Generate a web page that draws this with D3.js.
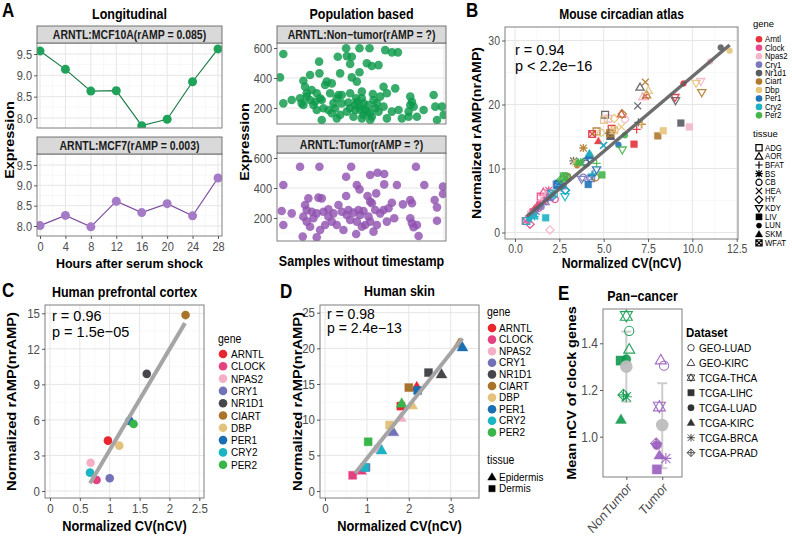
<!DOCTYPE html>
<html><head><meta charset="utf-8">
<script src="https://cdn.jsdelivr.net/npm/d3@7"></script>
<style>body{margin:0;background:#fff}</style>
</head><body><svg id="fig" width="792" height="541"></svg>
<script>
// ---------------- DATA ----------------
const hours = [0, 4, 8, 12, 16, 20, 24, 28];
const mcf10aExpr = [9.57, 9.14, 8.63, 8.64, 7.82, 7.97, 8.85, 9.62];
const mcf7Expr = [8.01, 8.26, 7.98, 8.61, 8.33, 8.55, 8.25, 9.18];

const nonTumorSample = [3.8,41.4,49.4,55.4,64.8,68.8,72.4,36.4,41.8,44.8,43.8,53.8,56.8,60.8,25.2,1.8,15.8,19.8,25.4,37.8,44.8,49.4,47.8,29.8,32.8,28.8,16.8,20.8,17.8,13.8,23.8,25.8,31.8,36.8,38.8,35.8,43.8,50.8,47.4,50.8,57.8,61.8,65.8,70.8,63.8,57.4,3.8,8.8,14.8,21.8,26.8,27.8,30.8,34.8,38.8,42.8,43.8,47.8,51.8,54.8,52.8,55.8,58.8,60.8,63.8,49.8,46.8,41.8,45.8,50.8,55.8,26.8,35.8,37.8,79.8,80.8,79.8,81.8,78.8,83.8,87.8,93.8,94.8,98.8,99.8,95.8,74.8,78.8,65.8,68.8,72.8,19.8,17.8,22.8,33.8,49.8,53.8,56.8,59.8,32.8,23.8,15.8,46.8,51.8];
const nonTumorExpr = [560,598,598,598,586,571,571,542,546,542,493,498,480,486,509,404,382,420,431,431,404,438,376,376,364,353,342,320,298,265,298,265,298,287,287,265,298,309,265,265,253,276,298,331,342,293,231,253,231,220,253,198,187,198,231,236,198,242,231,220,187,165,198,176,209,187,187,176,142,131,120,120,131,154,276,242,220,209,176,142,187,287,209,209,154,120,131,142,131,176,187,253,276,242,231,209,176,142,231,165,187,220,220,154];
const tumorSample = [13.8,25.4,44.4,83.2,41.4,55.8,60.2,64.2,3.8,47.8,49.4,64.2,71.8,88.2,99.4,99.4,18.8,24.8,26.8,41.4,54.2,59.4,55.8,56.8,68.8,75.4,79.8,80.8,94.4,95.8,2.8,8.8,16.8,17.8,20.8,23.8,27.8,30.8,33.8,36.8,38.8,42.8,45.8,48.8,51.8,63.8,66.8,49.8,54.8,61.8,15.8,3.8,19.8,25.8,28.8,32.8,35.8,43.8,47.8,52.8,55.8,59.8,70.2,79.8,80.8,83.8,95.8,15.4,23.8,47.4,57.8,84.8,21.8,30.8,41.8,58.8,65.8,81.8,39.8,50.8,17.8];
const tumorExpr = [542,542,542,542,475,487,502,493,420,420,391,424,420,420,409,360,331,336,331,347,347,364,309,298,302,291,320,298,320,271,247,231,287,253,242,231,242,258,231,287,242,253,236,253,247,253,265,220,209,231,209,153,142,120,153,176,153,187,176,153,176,153,198,198,165,153,182,76,71,93,109,80,198,209,220,253,176,138,120,142,176];

const mouseGenes = ["Arntl","Clock","Npas2","Cry1","Nr1d1","Ciart","Dbp","Per1","Cry2","Per2"];
const mouseGeneColors = ["#E5323B","#E8498C","#F4B5C9","#7B78BE","#5B5C63","#B07A2E","#E6C57D","#1F74B6","#1DB3C4","#45B54B"];
const mouseTissues = ["ADG","AOR","BFAT","BS","CB","HEA","HY","KDY","LIV","LUN","SKM","WFAT"];
// [gene, tissue, nCV, nrAMP]
const mouseAtlas = [
 ["Arntl","ADG",5.45,16.2],["Arntl","AOR",6.0,18.5],["Arntl","BFAT",6.86,16.1],["Arntl","BS",1.3,3.9],["Arntl","CB",2.95,8.7],["Arntl","HEA",7.35,21.3],["Arntl","HY",1.1,3.5],["Arntl","KDY",9.02,21.1],["Arntl","LIV",6.71,13.8],["Arntl","LUN",9.5,23.3],["Arntl","SKM",4.7,14.3],["Arntl","WFAT",4.35,15.4],
 ["Clock","ADG",1.45,5.6],["Clock","AOR",1.6,6.3],["Clock","BFAT",1.25,4.1],["Clock","BS",1.9,6.6],["Clock","CB",2.25,5.2],["Clock","HEA",0.75,2.1],["Clock","HY",0.85,1.3],["Clock","KDY",1.75,5.0],["Clock","LIV",1.0,3.2],["Clock","LUN",1.35,4.5],["Clock","SKM",1.85,5.8],["Clock","WFAT",0.6,1.8],
 ["Npas2","ADG",5.25,17.8],["Npas2","AOR",7.2,21.2],["Npas2","BFAT",1.7,6.2],["Npas2","BS",2.4,6.9],["Npas2","CB",6.2,17.7],["Npas2","HEA",1.5,5.4],["Npas2","HY",1.97,0.4],["Npas2","KDY",10.47,23.6],["Npas2","LIV",9.83,16.5],["Npas2","LUN",11.0,26.7],["Npas2","SKM",2.05,6.0],["Npas2","WFAT",0.9,2.8],
 ["Cry1","ADG",2.35,7.5],["Cry1","AOR",1.7,4.8],["Cry1","BFAT",4.4,9.1],["Cry1","BS",1.2,3.3],["Cry1","CB",3.85,8.6],["Cry1","HEA",0.95,2.5],["Cry1","HY",2.1,5.6],["Cry1","KDY",3.75,8.3],["Cry1","LIV",2.7,7.3],["Cry1","LUN",1.5,4.0],["Cry1","SKM",1.95,5.4],["Cry1","WFAT",4.3,8.5],
 ["Nr1d1","ADG",5.08,18.4],["Nr1d1","AOR",7.05,22.7],["Nr1d1","BFAT",6.96,17.2],["Nr1d1","BS",3.3,11.2],["Nr1d1","CB",4.0,10.8],["Nr1d1","HEA",6.92,19.8],["Nr1d1","HY",5.35,15.5],["Nr1d1","KDY",9.05,20.6],["Nr1d1","LIV",9.35,17.1],["Nr1d1","LUN",11.6,28.9],["Nr1d1","SKM",5.4,15.0],["Nr1d1","WFAT",5.38,15.1],
 ["Ciart","ADG",4.6,15.8],["Ciart","AOR",7.42,21.5],["Ciart","BFAT",7.15,16.9],["Ciart","BS",3.85,13.2],["Ciart","CB",4.55,8.6],["Ciart","HEA",7.35,23.5],["Ciart","HY",6.05,18.5],["Ciart","KDY",10.53,21.85],["Ciart","LIV",8.05,15.1],["Ciart","LUN",3.5,10.5],["Ciart","SKM",2.9,8.5],["Ciart","WFAT",5.36,15.5],
 ["Dbp","ADG",5.02,17.6],["Dbp","AOR",7.52,22.2],["Dbp","BFAT",7.1,17.0],["Dbp","BS",3.4,11.0],["Dbp","CB",4.85,15.6],["Dbp","HEA",6.0,16.5],["Dbp","HY",5.6,17.8],["Dbp","KDY",10.21,23.3],["Dbp","LIV",8.36,15.9],["Dbp","LUN",12.1,28.4],["Dbp","SKM",4.3,12.0],["Dbp","WFAT",5.6,16.0],
 ["Per1","ADG",2.45,7.6],["Per1","AOR",4.2,12.0],["Per1","BFAT",4.35,8.9],["Per1","BS",2.5,7.7],["Per1","CB",3.95,11.1],["Per1","HEA",5.0,13.6],["Per1","HY",2.85,6.6],["Per1","KDY",4.6,9.8],["Per1","LIV",4.13,7.5],["Per1","LUN",5.83,13.7],["Per1","SKM",4.15,12.1],["Per1","WFAT",2.4,7.4],
 ["Cry2","ADG",0.65,1.8],["Cry2","AOR",1.05,2.7],["Cry2","BFAT",4.35,9.1],["Cry2","BS",1.1,2.5],["Cry2","CB",2.2,5.9],["Cry2","HEA",4.98,13.6],["Cry2","HY",2.82,6.6],["Cry2","KDY",2.82,5.6],["Cry2","LIV",1.73,2.3],["Cry2","LUN",0.8,2.1],["Cry2","SKM",4.2,12.4],["Cry2","WFAT",2.05,6.1],
 ["Per2","ADG",2.75,8.8],["Per2","AOR",2.7,8.6],["Per2","BFAT",4.6,10.8],["Per2","BS",3.7,11.0],["Per2","CB",2.8,8.8],["Per2","HEA",3.6,10.9],["Per2","HY",2.6,8.3],["Per2","KDY",6.05,12.9],["Per2","LIV",4.9,9.0],["Per2","LUN",6.2,15.2],["Per2","SKM",3.55,11.0],["Per2","WFAT",2.9,8.6]
];
const mouseFit = [[0.66, 2.5], [12.1, 29.3]];

const humanGenes = ["ARNTL","CLOCK","NPAS2","CRY1","NR1D1","CIART","DBP","PER1","CRY2","PER2"];
const humanGeneColors = ["#E8262F","#E5407F","#F4AFC5","#7371B8","#46474B","#A9732A","#E3C27C","#1A6FB2","#1BB4C3","#3AB54A"];
const cortexCV = [0.97, 0.78, 0.68, 1.0, 1.62, 2.27, 1.16, 1.33, 0.67, 1.40];
const cortexAMP = [4.25, 0.93, 2.39, 1.07, 9.89, 14.85, 3.83, 5.92, 1.55, 5.66];
const cortexFit = [[0.67, 0.65], [2.26, 14.17]];

const skinTissues = ["Epidermis","Dermis"];
const skinEpiCV  = [2.19, 0.86, 1.81, 1.63, 2.78, 3.2, 2.08, 3.28, 1.35, 1.83];
const skinEpiAMP = [14.6, 2.9, 10.3, 8.3, 16.4, 20.7, 12.05, 20.2, 5.75, 12.3];
const skinDerCV  = [1.81, 0.66, 1.27, 0.98, 2.47, 2.0, 1.54, 2.21, 0.95, 1.03];
const skinDerAMP = [11.9, 2.2, 5.9, 3.3, 16.6, 14.5, 9.25, 14.1, 3.3, 6.9];
const skinFit = [[0.72, 2.48], [3.28, 21.4]];

const panGroups = ["NonTumor","Tumor"];
const panDatasets = ["GEO-LUAD","GEO-KIRC","TCGA-THCA","TCGA-LIHC","TCGA-LUAD","TCGA-KIRC","TCGA-BRCA","TCGA-PRAD"];
const panNonTumor = [1.453, 1.375, 1.517, 1.326, 1.332, 1.074, 1.171, 1.179];
const panTumor = [1.304, 1.329, 1.129, 0.86, 0.964, 0.921, 0.907, 0.971];
const panNonTumorJitter = [0.08, 0.08, 0.0, -0.16, 0.0, -0.15, 0.0, -0.08];
const panTumorJitter = [0.05, -0.04, -0.08, -0.15, -0.15, -0.08, 0.1, -0.17];
const panMean = [1.30, 1.05];
const panLow = [1.15, 0.865];
const panHigh = [1.45, 1.229];

// ---------------- HELPERS ----------------
const svg = d3.select("#fig");
const SY = 1.15;
const F = "'Liberation Sans', Arial, Helvetica, sans-serif";
svg.style("font-family", F);

function T(x, y, s, o = {}) {
  return svg.append("text")
    .attr("transform", `translate(${x},${y}) scale(1,${o.sy ?? SY})${o.rot ? ` rotate(${o.rot})` : ""}`)
    .attr("font-size", o.size || 11)
    .attr("font-weight", o.bold ? "bold" : null)
    .attr("fill", o.fill || "#000")
    .attr("text-anchor", o.anchor || "start")
    .attr("dy", o.dy || 0)
    .text(s);
}
let clipN = 0;
function panel(box, xs, ys, o = {}) {
  const g = svg.append("g");
  g.append("rect").attr("x", box.x0).attr("y", box.y0).attr("width", box.x1 - box.x0).attr("height", box.y1 - box.y0).attr("fill", "#fff");
  const vl = (arr, col, w) => g.append("g").selectAll("line").data(arr).join("line")
    .attr("x1", d => xs(d)).attr("x2", d => xs(d)).attr("y1", box.y0).attr("y2", box.y1).attr("stroke", col).attr("stroke-width", w);
  const hl = (arr, col, w) => g.append("g").selectAll("line").data(arr).join("line")
    .attr("y1", d => ys(d)).attr("y2", d => ys(d)).attr("x1", box.x0).attr("x2", box.x1).attr("stroke", col).attr("stroke-width", w);
  vl(o.xMinor || [], "#F4F4F4", 0.6); hl(o.yMinor || [], "#F4F4F4", 0.6);
  vl(o.xMajor || [], "#E6E6E6", 1); hl(o.yMajor || [], "#E6E6E6", 1);
  const id = "clip" + (clipN++);
  svg.append("clipPath").attr("id", id).append("rect").attr("x", box.x0).attr("y", box.y0).attr("width", box.x1 - box.x0).attr("height", box.y1 - box.y0);
  return svg.append("g").attr("clip-path", `url(#${id})`);
}
function border(box) {
  svg.append("rect").attr("x", box.x0).attr("y", box.y0).attr("width", box.x1 - box.x0).attr("height", box.y1 - box.y0)
    .attr("fill", "none").attr("stroke", "#7F7F7F").attr("stroke-width", 1);
}
function styleAxis(g, size) {
  g.select(".domain").remove();
  g.selectAll(".tick line").attr("stroke", "#333").attr("stroke-width", 0.8);
  g.selectAll(".tick text").attr("fill", "#4D4D4D").attr("font-size", size).attr("font-family", F).attr("transform", `scale(1,${SY})`);
  return g;
}
function axisL(box, ys, ticks, fmt, size) {
  return styleAxis(svg.append("g").attr("transform", `translate(${box.x0},0)`)
    .call(d3.axisLeft(ys).tickValues(ticks).tickFormat(fmt).tickSize(3).tickPadding(2)), size);
}
function axisB(box, xs, ticks, fmt, size) {
  return styleAxis(svg.append("g").attr("transform", `translate(0,${box.y1})`)
    .call(d3.axisBottom(xs).tickValues(ticks).tickFormat(fmt).tickSize(3).tickPadding(2)), size);
}
function strip(box, y0, label) {
  svg.append("rect").attr("x", box.x0).attr("y", y0).attr("width", box.x1 - box.x0).attr("height", box.y0 - y0)
    .attr("fill", "#D9D9D9").attr("stroke", "#555").attr("stroke-width", 0.8);
  T((box.x0 + box.x1) / 2, (y0 + box.y0) / 2, label, {size: 10.5, bold: true, anchor: "middle", dy: "0.35em", fill: "#1A1A1A"});
}
function shape(kind, s) {
  const h = s * 1.2;
  const sq = `M${-s},${-s}H${s}V${s}H${-s}Z`;
  const tri = `M0,${-h}L${h},${h * 0.72}L${-h},${h * 0.72}Z`;
  const trid = `M0,${h}L${h},${-h * 0.72}L${-h},${-h * 0.72}Z`;
  const plus = `M${-h},0H${h}M0,${-h}V${h}`;
  const cross = `M${-s},${-s}L${s},${s}M${-s},${s}L${s},${-s}`;
  const circ = `M${s},0A${s},${s} 0 1,1 ${-s},0A${s},${s} 0 1,1 ${s},0Z`;
  const dia = `M0,${-h}L${h},0L0,${h}L${-h},0Z`;
  switch (kind) {
    case "square": return sq;
    case "triangle": return tri;
    case "triangleDown": return trid;
    case "plus": return plus;
    case "cross": return cross;
    case "asterisk": return plus + cross;
    case "circle": return circ;
    case "diamond": return dia;
    case "squareCross": return sq + cross;
    case "david": return tri + trid;
    case "diamondPlus": return dia + plus;
  }
}
const tissueShape = {ADG:["square",0], AOR:["triangle",0], BFAT:["plus",0], BS:["asterisk",0], CB:["circle",0], HEA:["cross",0],
  HY:["diamond",0], KDY:["triangleDown",0], LIV:["square",1], LUN:["circle",1], SKM:["triangle",1], WFAT:["squareCross",0]};
const panShape = [["circle",0],["triangle",0],["david",0],["square",1],["circle",1],["triangle",1],["asterisk",0],["diamondPlus",0]];
function mark(g, kind, filled, x, y, s, color, sw) {
  return g.append("path").attr("d", shape(kind, s)).attr("transform", `translate(${x},${y})`)
    .attr("fill", filled ? color : "none").attr("stroke", color).attr("stroke-width", filled ? 0.4 : sw)
    .attr("stroke-linejoin", "miter");
}

// ---------------- PANEL A: LONGITUDINAL ----------------
T(2, 17, "A", {size: 17, bold: true});
const aTop = {x0: 37, x1: 222, y0: 43, y1: 128}, aBot = {x0: 37, x1: 222, y0: 154, y1: 236};
const axL = d3.scaleLinear().domain([0, 28]).range([40, 218]);
const ayTop = d3.scaleLinear().domain([8, 9.5]).range([118, 54]);
const ayBot = d3.scaleLinear().domain([8, 9.5]).range([226, 165]);
T(129.5, 19, "Longitudinal", {size: 12.5, bold: true, anchor: "middle"});
[[aTop, ayTop, mcf10aExpr, "#1E7E48", "#1FA35A", 26, "ARNTL:MCF10A(rAMP = 0.085)"],
 [aBot, ayBot, mcf7Expr, "#7D4CA0", "#A57AC6", 137, "ARNTL:MCF7(rAMP = 0.003)"]].forEach(([box, ys, vals, lc, pc, sy0, lab]) => {
  const g = panel(box, axL, ys, {xMajor: hours, xMinor: [2, 6, 10, 14, 18, 22, 26], yMajor: [8, 8.5, 9, 9.5], yMinor: [8.25, 8.75, 9.25]});
  g.append("path").datum(hours.map((h, i) => [h, vals[i]]))
    .attr("d", d3.line().x(d => axL(d[0])).y(d => ys(d[1]))).attr("fill", "none").attr("stroke", lc).attr("stroke-width", 1.2);
  g.selectAll(null).data(hours.map((h, i) => [h, vals[i]])).join("circle")
    .attr("cx", d => axL(d[0])).attr("cy", d => ys(d[1])).attr("r", 4.5).attr("fill", pc);
  border(box);
  strip(box, sy0, lab);
  axisL(box, ys, [8, 8.5, 9, 9.5], d3.format(".1f"), 11);
});
axisB(aBot, axL, hours, d3.format("d"), 11);
T(14, 140, "Expression", {size: 12.5, bold: true, anchor: "middle", rot: -90});
T(129.5, 267.5, "Hours after serum shock", {size: 12.5, bold: true, anchor: "middle", sy: 1.05});

// ---------------- PANEL A: POPULATION ----------------
const pTop = {x0: 277, x1: 446, y0: 43, y1: 124}, pBot = {x0: 277, x1: 446, y0: 153, y1: 241};
const pxs = d3.scaleLinear().domain([0, 100]).range([277, 444]);
const pyTop = d3.scaleLinear().domain([200, 600]).range([108, 48]);
const pyBot = d3.scaleLinear().domain([200, 600]).range([218, 158]);
T(361.5, 19, "Population based", {size: 12.5, bold: true, anchor: "middle"});
[[pTop, pyTop, nonTumorSample, nonTumorExpr, "#0E9A4C", 26, "ARNTL:Non\u2212tumor(rAMP = ?)"],
 [pBot, pyBot, tumorSample, tumorExpr, "#9053B0", 136, "ARNTL:Tumor(rAMP = ?)"]].forEach(([box, ys, xsV, ysV, col, sy0, lab]) => {
  const g = panel(box, pxs, ys, {xMajor: [100], yMajor: [200, 400, 600], yMinor: [100, 300, 500]});
  g.selectAll(null).data(xsV.map((x, i) => [x, ysV[i]])).join("circle")
    .attr("cx", d => pxs(d[0])).attr("cy", d => ys(d[1])).attr("r", 4.3).attr("fill", col).attr("fill-opacity", 0.82);
  border(box);
  strip(box, sy0, lab);
  axisL(box, ys, [200, 400, 600], d3.format("d"), 11);
});
T(249, 142, "Expression", {size: 12.5, bold: true, anchor: "middle", rot: -90});
T(361.5, 266, "Samples without timestamp", {size: 12.5, bold: true, anchor: "middle"});

// ---------------- PANEL B ----------------
T(466, 17, "B", {size: 17, bold: true});
const bBox = {x0: 505, x1: 738, y0: 27, y1: 239};
const bx = d3.scaleLinear().domain([0, 12.5]).range([515, 736.7]);
const by = d3.scaleLinear().domain([0, 30]).range([232.5, 40.5]);
T(621.5, 19, "Mouse circadian atlas", {size: 12, bold: true, anchor: "middle"});
{
  const g = panel(bBox, bx, by, {xMajor: [0, 2.5, 5, 7.5, 10, 12.5], xMinor: [1.25, 3.75, 6.25, 8.75, 11.25], yMajor: [0, 10, 20, 30], yMinor: [5, 15, 25]});
  const gc = d3.scaleOrdinal(mouseGenes, mouseGeneColors);
  mouseAtlas.forEach(d => {
    const [k, f] = tissueShape[d[1]];
    mark(g, k, f, bx(d[2]), by(d[3]), k === "circle" && f ? 3 : 3.4, gc(d[0]), 1.3).attr("opacity", 0.9);
  });
  g.append("line").attr("x1", bx(mouseFit[0][0])).attr("y1", by(mouseFit[0][1])).attr("x2", bx(mouseFit[1][0])).attr("y2", by(mouseFit[1][1]))
    .attr("stroke", "#5E5E5E").attr("stroke-width", 3.5).attr("opacity", 0.9);
  border(bBox);
  axisL(bBox, by, [0, 10, 20, 30], d3.format("d"), 10.5);
  axisB(bBox, bx, [0, 2.5, 5, 7.5, 10, 12.5], d3.format(".1f"), 10.5);
  T(515, 55, "r = 0.94", {size: 14.5, sy: 1.05});
  T(515, 70.5, "p < 2.2e\u221216", {size: 14.5, sy: 1.05});
  T(621.5, 268, "Normalized CV(nCV)", {size: 12.3, bold: true, anchor: "middle"});
  T(481, 133, "Normalized rAMP(nrAMP)", {size: 12.3, bold: true, anchor: "middle", rot: -90});
  // legends
  T(753, 27, "gene", {size: 9.5, sy: 1.05});
  mouseGenes.forEach((gname, i) => {
    const y = 39.3 + i * 8.45;
    svg.append("circle").attr("cx", 759).attr("cy", y).attr("r", 3.3).attr("fill", gc(gname));
    T(765, y, gname, {size: 7.8, dy: "0.35em", sy: 1.05});
  });
  T(753, 136.5, "tissue", {size: 9.5, sy: 1.05});
  mouseTissues.forEach((t, i) => {
    const y = 147.7 + i * 8.65;
    const [k, f] = tissueShape[t];
    mark(svg, k, f, 759, y, k === "circle" && f ? 2.6 : 3.1, "#000", 1.2);
    T(765, y, t, {size: 7.8, dy: "0.35em", sy: 1.05});
  });
}

// ---------------- PANEL C ----------------
T(2, 297, "C", {size: 17, bold: true});
const cBox = {x0: 45, x1: 204, y0: 305, y1: 498};
const cx = d3.scaleLinear().domain([0, 2.5]).range([50, 199.3]);
const cy = d3.scaleLinear().domain([0, 15]).range([491, 313.3]);
T(124.5, 297, "Human prefrontal cortex", {size: 12.5, bold: true, anchor: "middle"});
{
  const g = panel(cBox, cx, cy, {xMajor: [0, 0.5, 1, 1.5, 2, 2.5], xMinor: [0.25, 0.75, 1.25, 1.75, 2.25], yMajor: [0, 3, 6, 9, 12, 15], yMinor: [1.5, 4.5, 7.5, 10.5, 13.5]});
  g.selectAll(null).data(humanGenes).join("circle")
    .attr("cx", (d, i) => cx(cortexCV[i])).attr("cy", (d, i) => cy(cortexAMP[i])).attr("r", 4.3)
    .attr("fill", (d, i) => humanGeneColors[i]);
  g.append("line").attr("x1", cx(cortexFit[0][0])).attr("y1", cy(cortexFit[0][1])).attr("x2", cx(cortexFit[1][0])).attr("y2", cy(cortexFit[1][1]))
    .attr("stroke", "#A5A5A5").attr("stroke-width", 4);
  border(cBox);
  axisL(cBox, cy, [0, 3, 6, 9, 12, 15], d3.format("d"), 11.5);
  axisB(cBox, cx, [0, 0.5, 1, 1.5, 2, 2.5], d => d3.format("")(d), 11.5);
  T(52, 321, "r = 0.96", {size: 14.5, sy: 1.05});
  T(52, 337, "p = 1.5e\u221205", {size: 14.5, sy: 1.05});
  T(124.5, 531, "Normalized CV(nCV)", {size: 12.8, bold: true, anchor: "middle"});
  T(16, 401.5, "Normalized rAMP(nrAMP)", {size: 12.8, bold: true, anchor: "middle", rot: -90});
  T(218, 343, "gene", {size: 10.5});
  humanGenes.forEach((gname, i) => {
    const y = 354 + i * 12.3;
    svg.append("circle").attr("cx", 223).attr("cy", y).attr("r", 4.3).attr("fill", humanGeneColors[i]);
    T(231, y, gname, {size: 10, dy: "0.35em"});
  });
}

// ---------------- PANEL D ----------------
T(280, 298, "D", {size: 17, bold: true});
const dBox = {x0: 320, x1: 479, y0: 305, y1: 498};
const dx = d3.scaleLinear().domain([0, 3]).range([325, 450.7]);
const dy = d3.scaleLinear().domain([0, 25]).range([491, 312.7]);
T(399.5, 296, "Human skin", {size: 12.5, bold: true, anchor: "middle"});
{
  const g = panel(dBox, dx, dy, {xMajor: [0, 1, 2, 3], xMinor: [0.5, 1.5, 2.5], yMajor: [0, 5, 10, 15, 20, 25], yMinor: [2.5, 7.5, 12.5, 17.5, 22.5]});
  humanGenes.forEach((gname, i) => {
    mark(g, "square", 1, dx(skinDerCV[i]), dy(skinDerAMP[i]), 4, humanGeneColors[i], 1);
    mark(g, "triangle", 1, dx(skinEpiCV[i]), dy(skinEpiAMP[i]), 4.6, humanGeneColors[i], 1);
  });
  g.append("line").attr("x1", dx(skinFit[0][0])).attr("y1", dy(skinFit[0][1])).attr("x2", dx(skinFit[1][0])).attr("y2", dy(skinFit[1][1]))
    .attr("stroke", "#A5A5A5").attr("stroke-width", 4);
  border(dBox);
  axisL(dBox, dy, [0, 5, 10, 15, 20, 25], d3.format("d"), 11.5);
  axisB(dBox, dx, [0, 1, 2, 3], d3.format("d"), 11.5);
  T(327, 318.5, "r = 0.98", {size: 14, sy: 1.0});
  T(327, 333, "p = 2.4e\u221213", {size: 14, sy: 1.0});
  T(399.5, 531, "Normalized CV(nCV)", {size: 12.8, bold: true, anchor: "middle"});
  T(302, 401.5, "Normalized rAMP(nrAMP)", {size: 12.8, bold: true, anchor: "middle", rot: -90});
  T(487, 316, "gene", {size: 10.5});
  humanGenes.forEach((gname, i) => {
    const y = 328 + i * 11.6;
    svg.append("circle").attr("cx", 492).attr("cy", y).attr("r", 4.3).attr("fill", humanGeneColors[i]);
    T(499, y, gname, {size: 10, dy: "0.35em", sy: 1.05});
  });
  T(487, 464, "tissue", {size: 10.5});
  skinTissues.forEach((t, i) => {
    const y = 477 + i * 11.6;
    mark(svg, i === 0 ? "triangle" : "square", 1, 492, y, i === 0 ? 3.6 : 3.2, "#000", 1);
    T(499, y, t, {size: 10, dy: "0.35em", sy: 1.05});
  });
}

// ---------------- PANEL E ----------------
T(558, 300, "E", {size: 17, bold: true});
const eBox = {x0: 603, x1: 682, y0: 309, y1: 477};
const ex = d3.scaleLinear().domain([0.35, 2.55]).range([603, 682]);
const ey = d3.scaleLinear().domain([1, 1.4]).range([436.7, 343.3]);
T(642.5, 301, "Pan\u2212cancer", {size: 12.5, bold: true, anchor: "middle"});
{
  const g = panel(eBox, ex, ey, {});
  const cols = ["#0F9A4E", "#9A5FBE"];
  panGroups.forEach((grp, gi) => {
    const x = ex(gi + 1);
    g.append("line").attr("x1", x).attr("x2", x).attr("y1", ey(panLow[gi])).attr("y2", ey(panHigh[gi])).attr("stroke", "#CDCDCD").attr("stroke-width", 2);
    [panLow[gi], panHigh[gi]].forEach(v => g.append("line").attr("x1", x - 5).attr("x2", x + 5).attr("y1", ey(v)).attr("y2", ey(v)).attr("stroke", "#CDCDCD").attr("stroke-width", 2));
  });
  panGroups.forEach((grp, gi) => {
    const vals = gi === 0 ? panNonTumor : panTumor;
    const jit = gi === 0 ? panNonTumorJitter : panTumorJitter;
    vals.forEach((v, i) => {
      const [k, f] = panShape[i];
      mark(g, k, f, ex(gi + 1 + jit[i]), ey(v), k === "david" ? 5 : 4.6, cols[gi], 1.1).attr("opacity", 0.9);
    });
  });
  panGroups.forEach((grp, gi) => {
    g.append("circle").attr("cx", ex(gi + 1)).attr("cy", ey(panMean[gi])).attr("r", 6.3).attr("fill", "#BDBDBD").attr("opacity", 0.95);
  });
  border(eBox);
  axisL(eBox, ey, [1.0, 1.2, 1.4], d3.format(".1f"), 12);
  const ax = svg.append("g").attr("transform", `translate(0,${eBox.y1})`).call(d3.axisBottom(ex).tickValues([1, 2]).tickSize(3).tickFormat(""));
  ax.select(".domain").remove();
  ax.selectAll(".tick line").attr("stroke", "#333").attr("stroke-width", 0.8);
  panGroups.forEach((grp, gi) => {
    T(ex(gi + 1) + 3, eBox.y1 + 8, grp, {size: 12, anchor: "end", rot: -45, fill: "#4D4D4D", dy: "0.35em"});
  });
  T(576, 393, "Mean nCV of clock genes", {size: 12.5, bold: true, anchor: "middle", rot: -90});
  T(686, 337, "Dataset", {size: 11.5, bold: true});
  panDatasets.forEach((ds, i) => {
    const y = 347.7 + i * 15;
    const [k, f] = panShape[i];
    mark(svg, k, f, 691, y, 3.2, "#333", 0.9);
    T(699, y, ds, {size: 10, dy: "0.35em"});
  });
}
</script></body></html>
